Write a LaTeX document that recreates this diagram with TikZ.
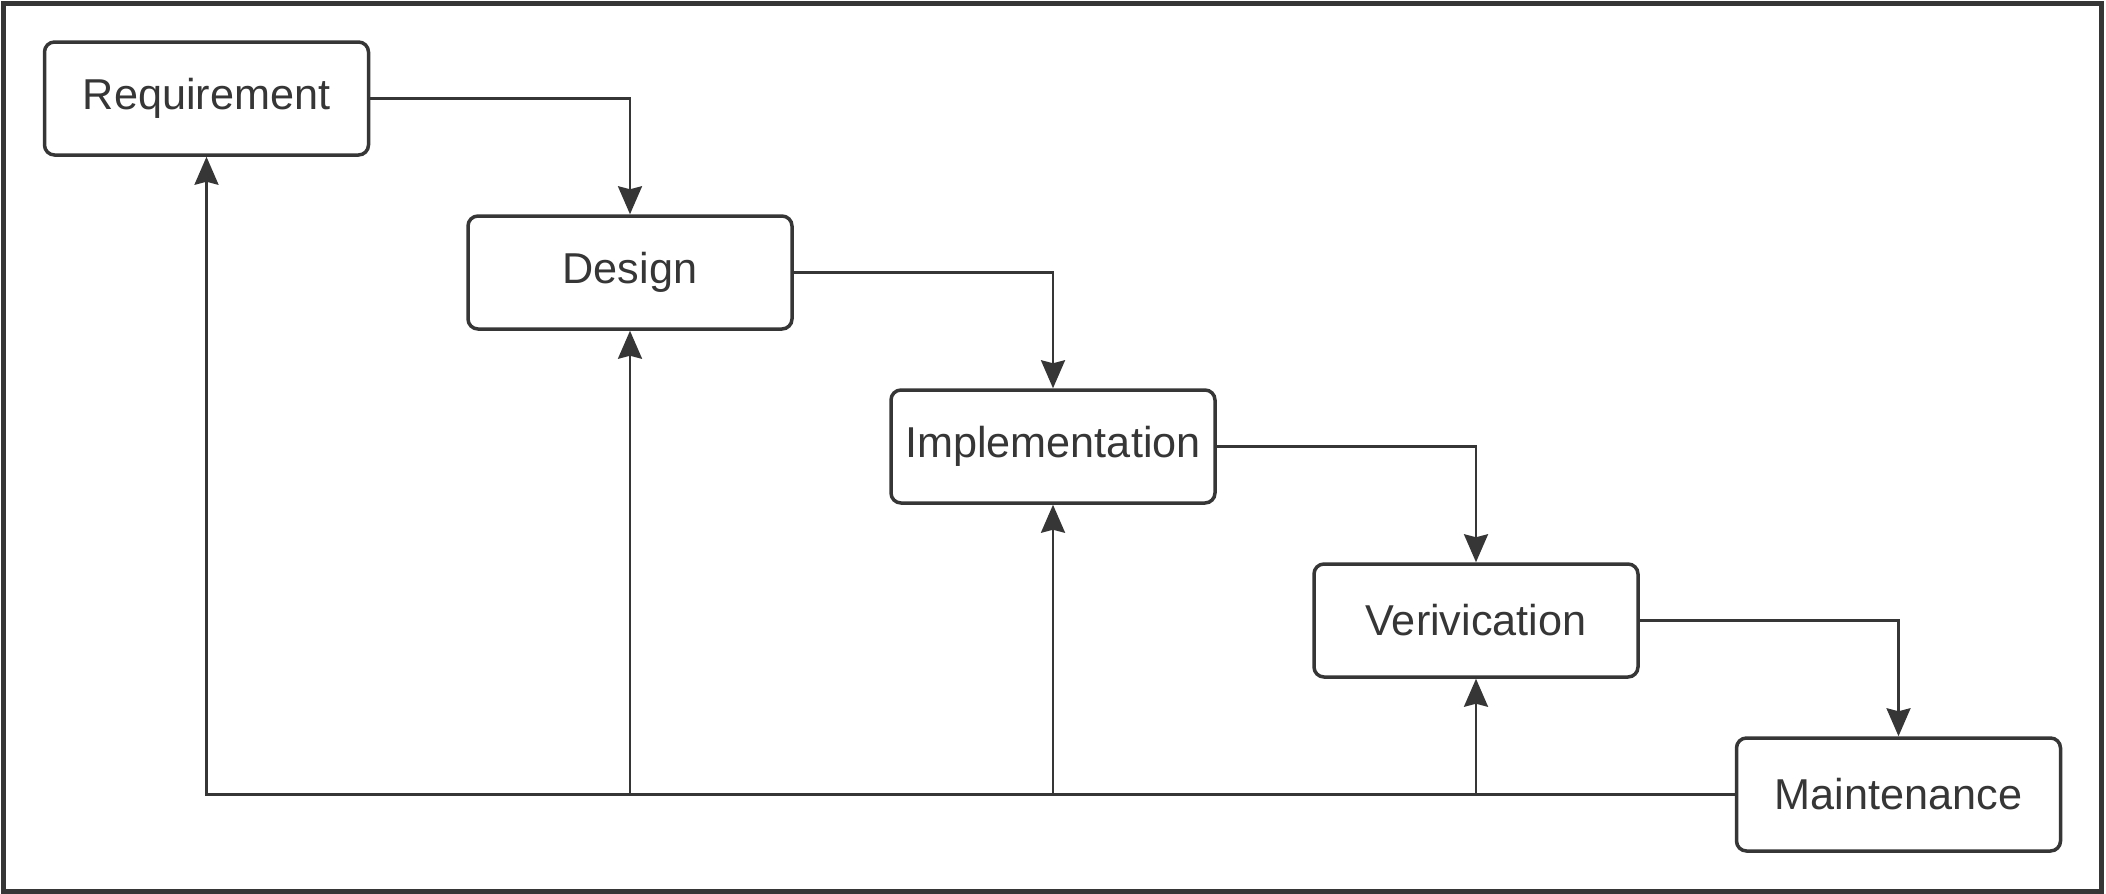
\documentclass[tikz,border=0pt]{standalone}
\usepackage{fontspec}
\setmainfont{Liberation Sans}
\usetikzlibrary{arrows.meta}
\definecolor{ink}{HTML}{363636}
\tikzset{
  phase/.style={draw=ink,line width=1.75pt,rounded corners=5pt,fill=white,
    minimum width=162pt,minimum height=56.5pt,text=ink,font=\fontsize{21.6}{26}\selectfont},
  flow/.style={draw=ink,line width=1.2pt,-{Stealth[length=14pt,width=12pt,inset=1.5pt]}},
  back/.style={draw=ink,line width=1.2pt}
}
\begin{document}
\begin{tikzpicture}[x=0.5pt,y=-0.5pt]
    \useasboundingbox (0,0) rectangle (2106,894);
    \draw[ink,line width=2.5pt] (3,3) rectangle (2101,891);
    % the five phases
    \node[phase] (req) at (206.5,98.5) {Requirement};
    \node[phase] (des) at (630,272.5) {Design};
    \node[phase] (imp) at (1053,446.5) {Implementation};
    \node[phase] (ver) at (1476,620.5) {Verivication};
    \node[phase] (mai) at (1898.5,794.5) {Maintenance};
    % forward flow
    \draw[flow] (req.east) -| (des.north);
    \draw[flow] (des.east) -| (imp.north);
    \draw[flow] (imp.east) -| (ver.north);
    \draw[flow] (ver.east) -| (mai.north);
    % feedback
    \draw[flow] (mai.west) -| (req.south);
    \foreach \n in {des,imp,ver}
    \draw[flow] (\n.south |- mai.west) -- (\n.south);
  \end{tikzpicture}
\end{document}
